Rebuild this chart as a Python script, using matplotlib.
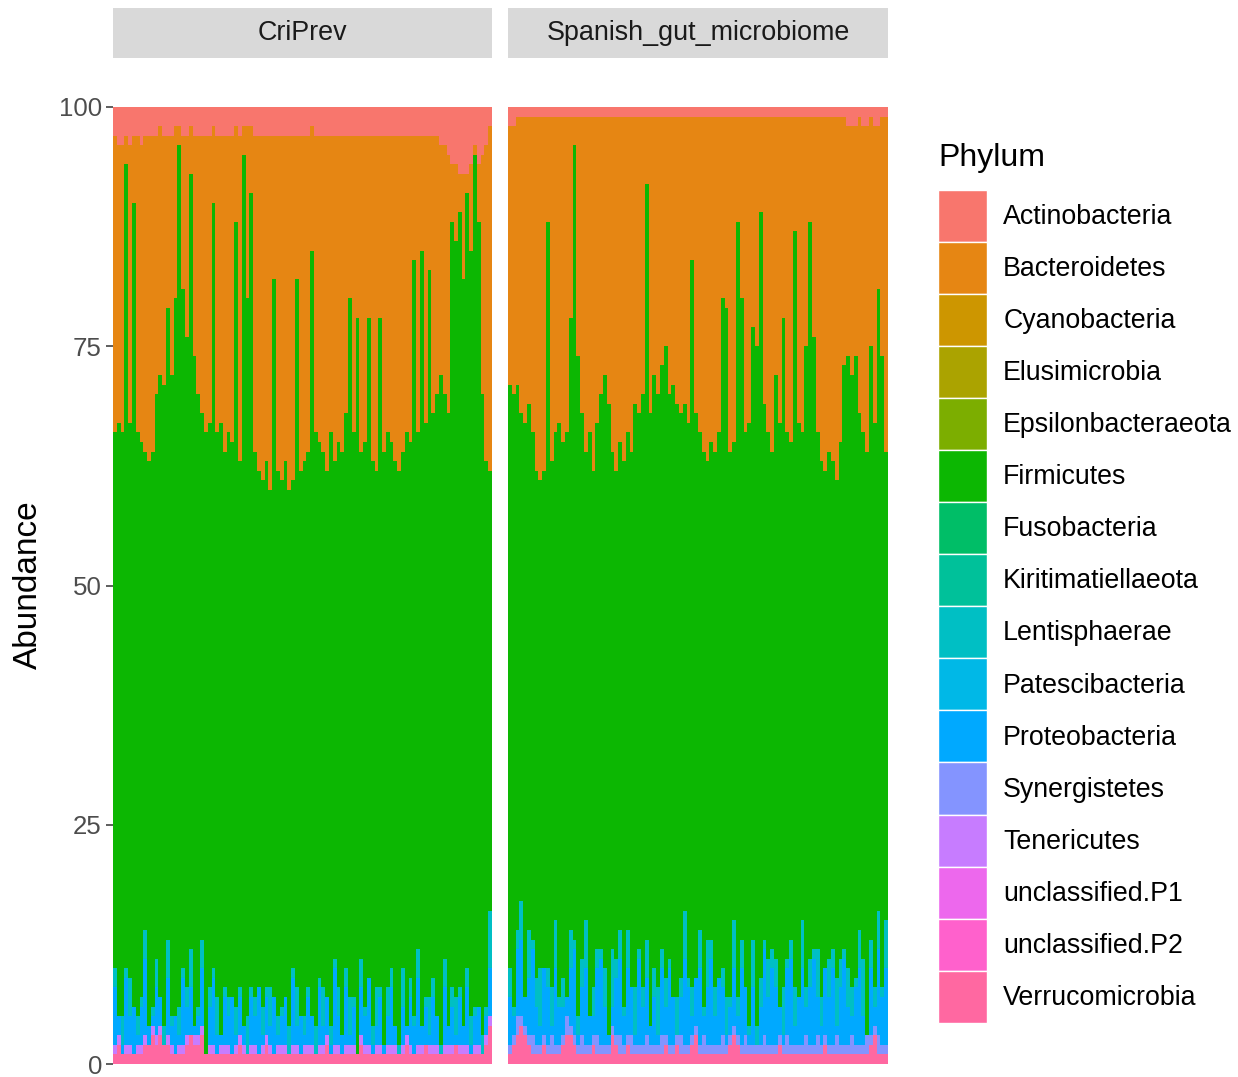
import matplotlib.pyplot as plt
import numpy as np
from matplotlib.patches import Patch

plt.rcParams['font.family'] = ['Liberation Sans', 'DejaVu Sans']

phyla = ['Actinobacteria', 'Bacteroidetes', 'Cyanobacteria', 'Elusimicrobia',
         'Epsilonbacteraeota', 'Firmicutes', 'Fusobacteria', 'Kiritimatiellaeota',
         'Lentisphaerae', 'Patescibacteria', 'Proteobacteria', 'Synergistetes',
         'Tenericutes', 'unclassified.P1', 'unclassified.P2', 'Verrucomicrobia']
colors = ['#F8766D', '#E68613', '#CD9600', '#ABA300', '#7CAE00', '#0CB702',
          '#00BE67', '#00C19A', '#00BFC4', '#00B8E7', '#00A9FF', '#8494FF',
          '#C77CFF', '#ED68ED', '#FF61CC', '#FF68A1']
facets = ['CriPrev', 'Spanish_gut_microbiome']

# ---- CriPrev (abundance %, one value per sample)
cri_actino = [3, 4, 4, 3, 4, 3, 3, 4, 3, 3,
              3, 3, 2, 3, 3, 3, 2, 2, 3, 3,
              2, 3, 3, 3, 3, 3, 2, 3, 3, 3,
              3, 3, 2, 3, 2, 2, 2, 3, 3, 3,
              3, 3, 3, 3, 3, 3, 3, 3, 3, 3,
              3, 3, 2, 3, 3, 3, 3, 3, 3, 3,
              3, 3, 3, 3, 3, 3, 3, 3, 3, 3,
              3, 3, 3, 3, 3, 3, 3, 3, 3, 3,
              3, 3, 3, 3, 3, 3, 4, 4, 5, 6,
              6, 7, 7, 7, 6, 4, 6, 5, 4, 2]
cri_bacter = [31, 29, 30, 3, 29, 7, 31, 31, 33, 34,
              33, 27, 26, 26, 18, 25, 18, 2, 16, 21,
              5, 23, 27, 29, 31, 30, 8, 31, 30, 33,
              31, 32, 10, 34, 3, 18, 7, 33, 35, 36,
              34, 37, 15, 35, 36, 34, 37, 36, 15, 35,
              34, 33, 13, 31, 32, 33, 35, 31, 34, 32,
              33, 29, 17, 31, 19, 33, 32, 19, 34, 35,
              19, 33, 31, 32, 34, 35, 33, 31, 32, 13,
              31, 12, 30, 14, 29, 27, 24, 26, 27, 6,
              8, 4, 11, 2, 9, 1, 6, 25, 33, 36]
cri_lenti = [2, 0, 3, 1, 4, 0, 2, 1, 3, 0,
             1, 3, 0, 2, 4, 1, 0, 3, 1, 2,
             4, 0, 1, 3, 0, 2, 1, 4, 0, 1,
             2, 0, 3, 1, 0, 4, 1, 2, 0, 3,
             1, 4, 0, 2, 1, 0, 3, 1, 4, 0,
             2, 1, 0, 3, 1, 4, 0, 2, 1, 3,
             0, 2, 4, 1, 0, 3, 1, 0, 2, 4,
             1, 0, 3, 2, 0, 1, 4, 0, 2, 1,
             3, 0, 1, 4, 2, 0, 1, 3, 0, 2,
             4, 1, 0, 2, 3, 1, 0, 2, 1, 6]
cri_proteo = [6, 2, 1, 7, 3, 5, 1, 4, 8, 2,
              1, 5, 3, 0, 6, 2, 4, 1, 7, 3,
              5, 1, 2, 6, 0, 4, 7, 2, 1, 5,
              3, 6, 1, 4, 2, 0, 5, 3, 7, 1,
              4, 2, 6, 1, 3, 5, 0, 7, 2, 4,
              1, 5, 3, 0, 6, 2, 4, 1, 8, 3,
              2, 6, 1, 4, 0, 5, 3, 7, 1, 2,
              5, 1, 3, 6, 2, 0, 4, 1, 5, 3,
              7, 2, 4, 1, 5, 3, 0, 6, 2, 4,
              1, 5, 2, 6, 1, 3, 4, 0, 2, 5]
cri_teneri = [1, 1, 0, 1, 1, 0, 1, 1, 1, 0,
              1, 1, 1, 0, 1, 1, 0, 1, 1, 1,
              0, 1, 1, 1, 0, 1, 1, 0, 1, 1,
              1, 0, 1, 1, 1, 0, 1, 1, 0, 1,
              1, 1, 0, 1, 1, 1, 0, 1, 1, 0,
              1, 1, 1, 0, 1, 1, 1, 0, 1, 1,
              0, 1, 1, 1, 0, 1, 1, 1, 0, 1,
              1, 0, 1, 1, 1, 0, 1, 1, 1, 0,
              1, 1, 0, 1, 1, 1, 0, 1, 1, 1,
              0, 1, 1, 1, 0, 1, 1, 0, 1, 1]
cri_verruco = [1, 2, 1, 1, 1, 1, 1, 1, 2, 2,
               3, 2, 3, 2, 2, 1, 1, 1, 1, 2,
               3, 2, 2, 3, 1, 1, 1, 1, 1, 1,
               1, 1, 1, 2, 1, 1, 1, 1, 1, 1,
               2, 1, 1, 1, 1, 1, 1, 1, 1, 1,
               1, 1, 1, 1, 1, 1, 2, 1, 1, 1,
               1, 1, 1, 1, 1, 2, 1, 1, 1, 1,
               1, 1, 1, 1, 1, 1, 1, 2, 1, 1,
               1, 1, 2, 1, 1, 1, 1, 1, 1, 1,
               2, 1, 1, 1, 1, 1, 1, 1, 2, 4]

# ---- Spanish_gut_microbiome
spa_actino = [2, 2, 1, 1, 1, 1, 1, 1, 1, 1,
              1, 1, 1, 1, 1, 1, 1, 1, 1, 1,
              1, 1, 1, 1, 1, 1, 1, 1, 1, 1,
              1, 1, 1, 1, 1, 1, 1, 1, 1, 1,
              1, 1, 1, 1, 1, 1, 1, 1, 1, 1,
              1, 1, 1, 1, 1, 1, 1, 1, 1, 1,
              1, 1, 1, 1, 1, 1, 1, 1, 1, 1,
              1, 1, 1, 1, 1, 1, 1, 1, 1, 1,
              1, 1, 1, 1, 1, 1, 1, 1, 1, 2,
              2, 2, 1, 2, 2, 1, 2, 2, 1, 1]
spa_bacter = [27, 28, 28, 31, 32, 30, 33, 37, 38, 37,
              11, 36, 33, 32, 34, 33, 21, 3, 25, 31,
              35, 33, 37, 32, 29, 27, 30, 35, 37, 34,
              36, 33, 35, 30, 31, 29, 7, 31, 27, 29,
              26, 24, 29, 28, 30, 31, 30, 32, 15, 31,
              33, 35, 36, 34, 35, 33, 19, 20, 35, 34,
              11, 19, 33, 32, 22, 24, 10, 30, 33, 35,
              27, 32, 21, 33, 34, 12, 32, 33, 24, 11,
              23, 33, 36, 37, 35, 36, 38, 34, 26, 24,
              26, 24, 31, 32, 34, 24, 31, 17, 25, 35]
spa_lenti = [3, 1, 2, 4, 0, 5, 1, 3, 6, 0,
             2, 4, 5, 1, 3, 0, 4, 1, 2, 3,
             5, 0, 3, 2, 1, 4, 0, 6, 2, 3,
             1, 4, 0, 5, 1, 2, 4, 0, 3, 5,
             2, 3, 1, 0, 4, 2, 5, 1, 3, 0,
             4, 1, 5, 2, 3, 0, 2, 4, 1, 5,
             2, 3, 0, 1, 5, 2, 3, 1, 4, 2,
             3, 0, 5, 1, 2, 4, 0, 5, 2, 3,
             1, 5, 3, 0, 4, 2, 5, 3, 1, 4,
             3, 1, 4, 6, 0, 3, 2, 4, 1, 5]
spa_proteo = [5, 2, 7, 8, 3, 6, 9, 4, 2, 7,
              6, 1, 8, 4, 3, 2, 6, 9, 1, 5,
              8, 3, 2, 7, 9, 4, 1, 2, 6, 8,
              3, 7, 5, 1, 9, 4, 6, 2, 5, 1,
              7, 3, 8, 5, 0, 4, 9, 6, 2, 5,
              8, 2, 6, 9, 3, 7, 5, 1, 3, 6,
              2, 8, 5, 1, 6, 0, 4, 9, 5, 8,
              6, 3, 1, 7, 9, 2, 5, 8, 3, 6,
              9, 4, 2, 7, 5, 8, 1, 6, 9, 4,
              2, 6, 8, 3, 0, 7, 2, 9, 5, 8]
spa_synerg = [1, 1, 2, 1, 1, 1, 2, 1, 1, 1,
              1, 2, 1, 1, 1, 2, 1, 1, 1, 2,
              1, 1, 1, 2, 1, 1, 1, 1, 1, 2,
              1, 1, 2, 1, 1, 1, 2, 1, 1, 1,
              2, 1, 1, 1, 1, 2, 1, 1, 1, 1,
              1, 2, 1, 1, 1, 1, 2, 1, 1, 1,
              1, 1, 2, 1, 1, 1, 1, 2, 1, 1,
              1, 1, 1, 2, 1, 1, 1, 1, 2, 1,
              1, 2, 1, 1, 1, 1, 2, 1, 1, 1,
              2, 1, 1, 1, 2, 1, 1, 2, 1, 1]
spa_verruco = [1, 2, 3, 4, 3, 2, 1, 1, 1, 2,
               1, 1, 1, 1, 2, 3, 3, 2, 1, 1,
               1, 1, 2, 1, 1, 1, 1, 3, 2, 1,
               1, 2, 1, 1, 1, 1, 1, 1, 1, 1,
               1, 2, 1, 1, 2, 1, 1, 1, 2, 3,
               1, 1, 1, 1, 1, 1, 1, 1, 2, 3,
               2, 1, 1, 1, 1, 1, 1, 1, 1, 1,
               1, 2, 1, 1, 1, 1, 1, 1, 1, 1,
               1, 1, 1, 2, 1, 1, 1, 1, 1, 1,
               1, 1, 1, 1, 1, 2, 3, 1, 1, 1]


def panel_table(actino, bacter, minors):
    n = len(actino)
    tab = {p: np.zeros(n) for p in phyla}
    tab['Actinobacteria'] = np.array(actino, float)
    tab['Bacteroidetes'] = np.array(bacter, float)
    for k, v in minors.items():
        tab[k] = np.array(v, float)
    # Firmicutes fills the rest up to 100 %
    tab['Firmicutes'] = 100 - sum(tab[p] for p in phyla if p != 'Firmicutes')
    return tab


tables = [
    panel_table(cri_actino, cri_bacter, {'Lentisphaerae': cri_lenti, 'Proteobacteria': cri_proteo,
                                         'Tenericutes': cri_teneri, 'Verrucomicrobia': cri_verruco}),
    panel_table(spa_actino, spa_bacter, {'Lentisphaerae': spa_lenti, 'Proteobacteria': spa_proteo,
                                         'Synergistetes': spa_synerg, 'Verrucomicrobia': spa_verruco}),
]

W, H = 1238, 1077
fig = plt.figure(figsize=(W / 100, H / 100), dpi=100)


def box(x0, y0, x1, y1):
    return [x0 / W, 1 - y1 / H, (x1 - x0) / W, (y1 - y0) / H]


panel_px = [(113, 492), (508, 888)]
for k, (tab, name) in enumerate(zip(tables, facets)):
    x0, x1 = panel_px[k]
    ax = fig.add_axes(box(x0, 107, x1, 1064))
    n = len(tab['Firmicutes'])
    xs = np.arange(n)
    bottom = np.zeros(n)
    # ggplot stacks the first level on top, so draw from the last level upwards
    for p, c in zip(phyla[::-1], colors[::-1]):
        v = tab[p]
        if v.sum() > 0:
            ax.bar(xs, v, bottom=bottom, width=1.0, color=c, linewidth=0, antialiased=False)
        bottom = bottom + v
    ax.set_xlim(-0.5, n - 0.5)
    ax.set_ylim(0, 100)
    ax.set_xticks([])
    for s in ax.spines.values():
        s.set_visible(False)
    if k == 0:
        ax.set_yticks([0, 25, 50, 75, 100])
        ax.tick_params(axis='y', length=5, width=1.1, color='#333333',
                       labelcolor='#4D4D4D', labelsize=18.6, pad=3)
    else:
        ax.set_yticks([])

    sx = fig.add_axes(box(x0, 8, x1, 58))
    sx.set_facecolor('#D9D9D9')
    sx.set_xticks([])
    sx.set_yticks([])
    for s in sx.spines.values():
        s.set_visible(False)
    sx.text(0.5, 0.5, name, ha='center', va='center', fontsize=19.4,
            color='#1A1A1A', transform=sx.transAxes)

fig.text(28 / W, 1 - 585 / H, 'Abundance', rotation=90, ha='center', va='center',
         fontsize=24, color='black')

fig.text(938 / W, 1 - 158 / H, 'Phylum', ha='left', va='center', fontsize=23)
handles = [Patch(facecolor=c, edgecolor='white', linewidth=1, label=p)
           for p, c in zip(phyla, colors)]
fig.legend(handles=handles, loc='upper left', bbox_to_anchor=(938 / W, 1 - 190 / H),
           frameon=False, fontsize=19.3, handlelength=1.83, handleheight=2.61,
           labelspacing=0.0, handletextpad=0.6, borderpad=0, borderaxespad=0)

fig.savefig('out.png', dpi=100, facecolor='white')
